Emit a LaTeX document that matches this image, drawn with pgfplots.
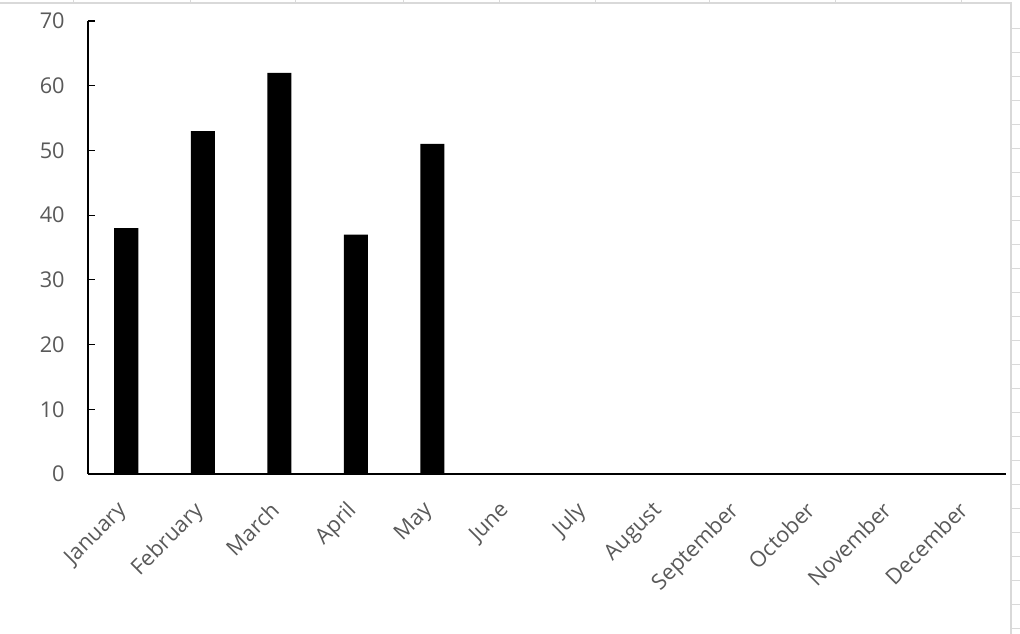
\documentclass[border=0pt]{standalone}
\usepackage{pgfplots}
\pgfplotsset{compat=1.18}
\usepackage{fontspec}
\setmainfont{Open Sans}
\definecolor{txt}{HTML}{595959}
\definecolor{grid}{HTML}{D9D9D9}
\begin{document}
\begin{tikzpicture}
\useasboundingbox (0pt,0pt) rectangle (765pt,475.5pt);
% faint spreadsheet cell lines
\draw[grid, line width=0.9pt] (0pt,473.25pt) -- (758.25pt,473.25pt) -- (758.25pt,0pt);
\foreach \xx in {73,190,295,403,499,595,709,835,961} \draw[grid, line width=0.6pt] (0.75pt*\xx,473.25pt) -- (0.75pt*\xx,475.5pt);
\foreach \k in {1,...,26} \draw[grid, line width=0.6pt] (758.25pt,{0.75pt*(630-24*\k)}) -- (765pt,{0.75pt*(630-24*\k)});
\begin{axis}[
  at={(66pt,120pt)}, anchor=south west,
  scale only axis, width=688.5pt, height=339.75pt,
  xmin=-0.5, xmax=11.5, ymin=0, ymax=70,
  axis x line*=bottom, axis y line*=left,
  axis line style={black, line width=0.9pt},
  xtick=data,
  xticklabels={January,February,March,April,May,June,July,August,September,October,November,December},
  x tick style={draw=none},
  ytick={0,10,...,70},
  y tick style={black, line width=0.9pt},
  major tick length=5.5pt,
  tick align=inside,
  ticklabel style={font=\fontsize{16.3}{19}\selectfont, text=txt},
  /pgf/number format/assume math mode=true,
  xticklabel style={rotate=45, anchor=north east, xshift=-12pt, yshift=-1pt},
  yticklabel style={xshift=-14pt},
  ybar, bar width=18pt,
  enlarge x limits=false,
]
\addplot[fill=black, draw=none] coordinates {(0,38) (1,53) (2,62) (3,37) (4,51) (5,0) (6,0) (7,0) (8,0) (9,0) (10,0) (11,0)};
\end{axis}
\end{tikzpicture}
\end{document}
